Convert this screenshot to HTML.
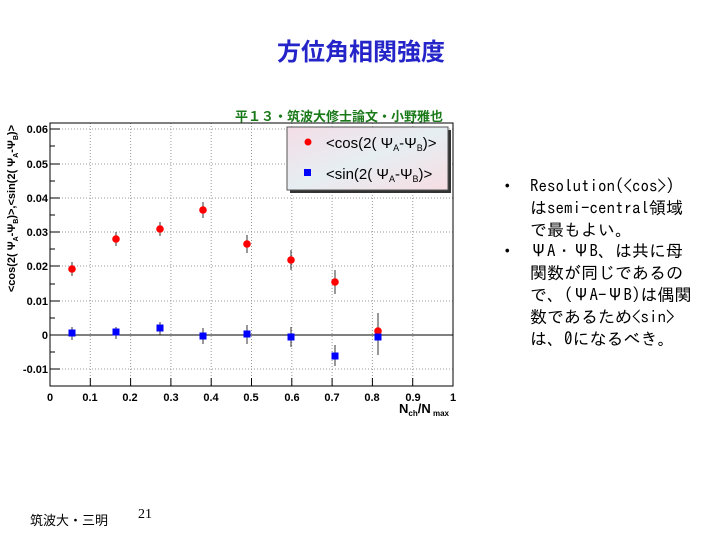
<!DOCTYPE html><html><head><meta charset="utf-8"><style>
body{margin:0;width:720px;height:540px;background:#fff;overflow:hidden;position:relative;font-family:"Liberation Sans","Noto Sans CJK JP",sans-serif}
.t{position:absolute}
</style></head><body>
<div class="t" style="left:277px;top:35px;font-size:24px;font-weight:bold;color:#2424c8;font-family:'Noto Sans CJK JP',sans-serif;line-height:30px">方位角相関強度</div>
<svg class="t" style="left:0;top:0" width="720" height="540">
<defs><linearGradient id="lg" x1="0" y1="0" x2="1" y2="1"><stop offset="0" stop-color="#f4dde6"/><stop offset="0.5" stop-color="#e6eef2"/><stop offset="1" stop-color="#f6dde3"/></linearGradient></defs>
<text x="235" y="121" font-size="13" fill="#1a7a1a" font-weight="bold" font-family="Noto Sans CJK JP,sans-serif">平１３・筑波大修士論文・小野雅也</text>
<g stroke="#999" stroke-dasharray="1,2" stroke-width="1">
<line x1="90.3" y1="123" x2="90.3" y2="386"/><line x1="130.6" y1="123" x2="130.6" y2="386"/><line x1="170.9" y1="123" x2="170.9" y2="386"/><line x1="211.2" y1="123" x2="211.2" y2="386"/><line x1="251.5" y1="123" x2="251.5" y2="386"/><line x1="291.8" y1="123" x2="291.8" y2="386"/><line x1="332.1" y1="123" x2="332.1" y2="386"/><line x1="372.4" y1="123" x2="372.4" y2="386"/><line x1="412.7" y1="123" x2="412.7" y2="386"/>
<line x1="50" y1="369" x2="453" y2="369"/><line x1="50" y1="301" x2="453" y2="301"/><line x1="50" y1="266" x2="453" y2="266"/><line x1="50" y1="232" x2="453" y2="232"/><line x1="50" y1="198" x2="453" y2="198"/><line x1="50" y1="164" x2="453" y2="164"/><line x1="50" y1="129" x2="453" y2="129"/>
</g>
<line x1="50" y1="335" x2="453" y2="335" stroke="#000"/>
<rect x="50" y="123" width="403" height="263" fill="none" stroke="#000"/>
<g stroke="#000">
<line x1="50" y1="129" x2="60" y2="129"/><line x1="50" y1="164" x2="60" y2="164"/><line x1="50" y1="198" x2="60" y2="198"/><line x1="50" y1="232" x2="60" y2="232"/><line x1="50" y1="266" x2="60" y2="266"/><line x1="50" y1="301" x2="60" y2="301"/><line x1="50" y1="335" x2="60" y2="335"/><line x1="50" y1="369" x2="60" y2="369"/>
<line x1="50" y1="146" x2="55" y2="146"/><line x1="50" y1="181" x2="55" y2="181"/><line x1="50" y1="215" x2="55" y2="215"/><line x1="50" y1="249" x2="55" y2="249"/><line x1="50" y1="284" x2="55" y2="284"/><line x1="50" y1="318" x2="55" y2="318"/><line x1="50" y1="352" x2="55" y2="352"/>
<line x1="90.3" y1="386" x2="90.3" y2="378"/><line x1="130.6" y1="386" x2="130.6" y2="378"/><line x1="170.9" y1="386" x2="170.9" y2="378"/><line x1="211.2" y1="386" x2="211.2" y2="378"/><line x1="251.5" y1="386" x2="251.5" y2="378"/><line x1="291.8" y1="386" x2="291.8" y2="378"/><line x1="332.1" y1="386" x2="332.1" y2="378"/><line x1="372.4" y1="386" x2="372.4" y2="378"/><line x1="412.7" y1="386" x2="412.7" y2="378"/>
</g>
<g font-size="11" font-weight="bold" text-anchor="end">
<text x="48" y="133">0.06</text><text x="48" y="168">0.05</text><text x="48" y="202">0.04</text><text x="48" y="236">0.03</text><text x="48" y="270">0.02</text><text x="48" y="305">0.01</text><text x="48" y="339">0</text><text x="48" y="373">-0.01</text>
</g>
<g font-size="11" font-weight="bold" text-anchor="middle">
<text x="50" y="401">0</text><text x="90" y="401">0.1</text><text x="130" y="401">0.2</text><text x="171" y="401">0.3</text><text x="211" y="401">0.4</text><text x="251" y="401">0.5</text><text x="292" y="401">0.6</text><text x="332" y="401">0.7</text><text x="372" y="401">0.8</text><text x="413" y="401">0.9</text><text x="453" y="401">1</text>
</g>
<text x="399" y="413" font-size="13" font-weight="bold">N<tspan font-size="8" dy="3">ch</tspan><tspan dy="-3">/N</tspan><tspan font-size="8" dy="3"> max</tspan></text>
<text transform="translate(15,125) rotate(-90)" text-anchor="end" font-size="11" font-weight="bold">&lt;cos(2( Ψ<tspan font-size="7" dy="3">A</tspan><tspan dy="-3">-Ψ</tspan><tspan font-size="7" dy="3">B</tspan><tspan dy="-3">)&gt;,&lt;sin(2( Ψ</tspan><tspan font-size="7" dy="3">A</tspan><tspan dy="-3">-Ψ</tspan><tspan font-size="7" dy="3">B</tspan><tspan dy="-3">)&gt;</tspan></text>
<rect x="290" y="130" width="161" height="63" fill="#333"/>
<rect x="287" y="127" width="161" height="63" fill="url(#lg)" stroke="#555"/>
<circle cx="308" cy="142" r="3.5" fill="#f00"/>
<rect x="304" y="169" width="7" height="7" fill="#00f"/>
<text x="326" y="148" font-size="15">&lt;cos(2( Ψ<tspan font-size="9" dy="3">A</tspan><tspan dy="-3">-Ψ</tspan><tspan font-size="9" dy="3">B</tspan><tspan dy="-3">)&gt;</tspan></text>
<text x="326" y="179" font-size="15">&lt;sin(2( Ψ<tspan font-size="9" dy="3">A</tspan><tspan dy="-3">-Ψ</tspan><tspan font-size="9" dy="3">B</tspan><tspan dy="-3">)&gt;</tspan></text>
<g stroke="#333">
<line x1="72" y1="262" x2="72" y2="276"/><line x1="116" y1="232" x2="116" y2="246"/><line x1="160" y1="222" x2="160" y2="236"/><line x1="203" y1="202" x2="203" y2="218"/><line x1="247" y1="235" x2="247" y2="253"/><line x1="291" y1="250" x2="291" y2="270"/><line x1="335" y1="270" x2="335" y2="294"/><line x1="378" y1="313" x2="378" y2="355"/>
<line x1="72" y1="327" x2="72" y2="340"/><line x1="116" y1="327" x2="116" y2="339"/><line x1="160" y1="322" x2="160" y2="335"/><line x1="203" y1="328" x2="203" y2="344"/><line x1="247" y1="325" x2="247" y2="344"/><line x1="291" y1="327" x2="291" y2="347"/><line x1="335" y1="345" x2="335" y2="366"/><line x1="378" y1="322" x2="378" y2="355"/>
</g>
<g fill="#f00">
<circle cx="72" cy="269" r="3.8"/><circle cx="116" cy="239" r="3.8"/><circle cx="160" cy="229" r="3.8"/><circle cx="203" cy="210" r="3.8"/><circle cx="247" cy="244" r="3.8"/><circle cx="291" cy="260" r="3.8"/><circle cx="335" cy="282" r="3.8"/><circle cx="378" cy="331" r="3.8"/>
</g>
<g fill="#00f">
<rect x="68.5" y="329.5" width="7" height="7"/><rect x="112.5" y="328.5" width="7" height="7"/><rect x="156.5" y="324.5" width="7" height="7"/><rect x="199.5" y="332.5" width="7" height="7"/><rect x="243.5" y="330.5" width="7" height="7"/><rect x="287.5" y="333.5" width="7" height="7"/><rect x="331.5" y="352.5" width="7" height="7"/><rect x="374.5" y="333.5" width="7" height="7"/>
</g>
</svg>
<div class="t" style="left:503px;top:176px;font-size:17px;line-height:21.8px;font-family:'IPAGothic','Noto Sans CJK JP',monospace;color:#000">
<div style="position:relative;padding-left:27px"><span style="position:absolute;left:0">•</span>Resolution(&lt;cos&gt;)<br>はsemi-central領域<br>で最もよい。</div>
<div style="position:relative;padding-left:27px"><span style="position:absolute;left:0">•</span>ΨA・ΨB、は共に母<br>関数が同じであるの<br>で、(ΨA-ΨB)は偶関<br>数であるため&lt;sin&gt;<br>は、0になるべき。</div>
</div>
<div class="t" style="left:30px;top:510px;font-size:13px;font-family:'Noto Sans CJK JP',sans-serif">筑波大・三明</div>
<div class="t" style="left:138px;top:507px;font-size:14px;font-family:'Liberation Serif',serif">21</div>
</body></html>
